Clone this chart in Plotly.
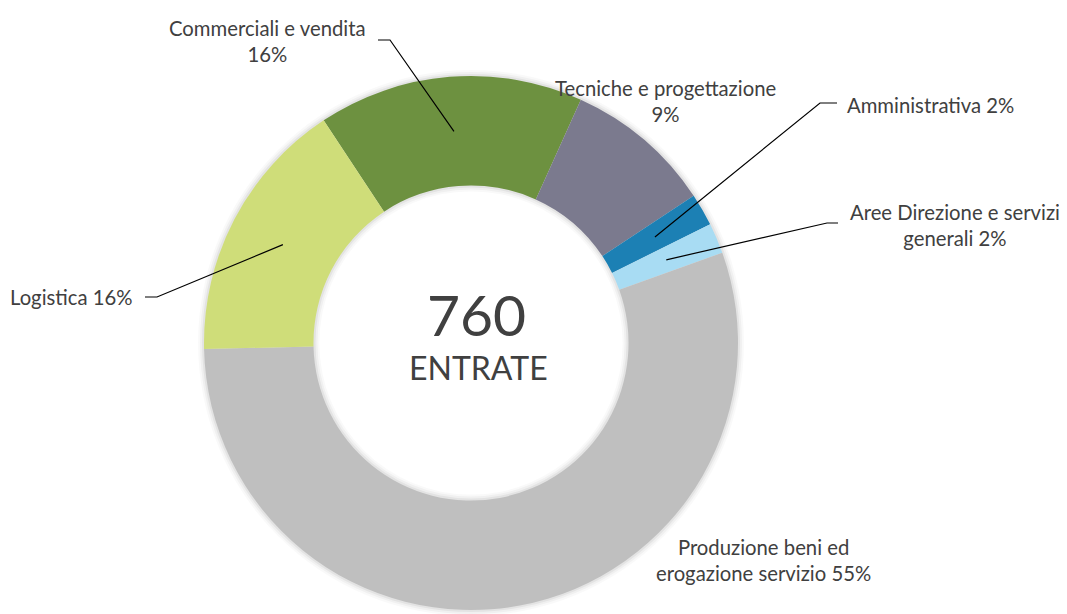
import math
import plotly.graph_objects as go

# ---- data ----
categories = [
    "Commerciali e vendita",
    "Tecniche e progettazione",
    "Amministrativa",
    "Aree Direzione e servizi generali",
    "Produzione beni ed erogazione servizio",
    "Logistica",
]
values = [122, 68, 15, 14, 419, 122]
label_names = [
    "Commerciali e vendita<br>{p}%",
    "Tecniche e progettazione<br>{p}%",
    "Amministrativa {p}%",
    "Aree Direzione e servizi<br>generali {p}%",
    "Produzione beni ed<br>erogazione servizio {p}%",
    "Logistica {p}%",
]
center_value = "760"
center_word = "ENTRATE"

# ---- styling / layout ----
colors = ["#6d9140", "#7b7a8e", "#1c80b4", "#a8dcf3", "#bfbfbf", "#cfdd79"]
OFF = 8                      # default page body margin
W, H = 1067 - OFF, 614       # figure size
CX, CY, R = 471, 343, 267    # target page pixel geometry
HOLE = 0.59
ROTATION = -33.5
FONT = "Lato, Carlito, Calibri, sans-serif"
TXT = "#404040"
LABEL_SIZE = 20.3


def px(x):
    return (x - OFF) / W


def py(y):
    return 1 - (y - OFF) / H


total = sum(values)
pct = [round(v / total * 100) for v in values]

fig = go.Figure()

# soft shadow rings behind the donut
r_in = R * HOLE
for k, a in [(6, 0.025), (4, 0.035), (2, 0.05)]:
    Ro = R + k
    fig.add_trace(go.Pie(
        values=[1], labels=["shadow"], hole=(r_in - k) / Ro, sort=False,
        marker=dict(colors=["rgba(0,0,0,{})".format(a)], line=dict(width=0)),
        textinfo="none", hoverinfo="skip", showlegend=False,
        domain=dict(x=[px(CX - Ro), px(CX + Ro)], y=[py(CY + Ro), py(CY - Ro)]),
    ))

fig.add_trace(go.Pie(
    labels=categories,
    values=values,
    hole=HOLE,
    sort=False,
    direction="clockwise",
    rotation=ROTATION,
    marker=dict(colors=colors, line=dict(width=0)),
    textinfo="none",
    hoverinfo="label+value+percent",
    showlegend=False,
    domain=dict(x=[px(CX - R), px(CX + R)], y=[py(CY + R), py(CY - R)]),
))


# mid-angle pointer for each slice (derived from data)
def pointer(i):
    start = ROTATION + sum(values[:i]) / total * 360
    mid = start + values[i] / total * 360 / 2
    a = math.radians(mid)
    rm = R * (1 + HOLE) / 2
    return CX + rm * math.sin(a), CY - rm * math.cos(a)


# label placement: (text x, text y, anchor, leader start, leader elbow)
placement = {
    0: (267, 41, "center", (378, 40), (390, 40)),
    1: (665, 101, "center", None, None),
    2: (845, 105, "left", (837, 103), (820, 103)),
    3: (955, 225, "center", (838, 223), (827, 223)),
    4: (764, 560, "center", None, None),
    5: (135, 297, "right", (145, 297), (157, 297)),
}

annotations = []
shapes = []
for i, (tx, ty, anc, p0, p1) in placement.items():
    annotations.append(dict(
        x=px(tx), y=py(ty), xref="paper", yref="paper",
        text=label_names[i].format(p=pct[i]), showarrow=False,
        xanchor=anc, yanchor="middle", align="center",
        font=dict(family=FONT, size=LABEL_SIZE, color=TXT),
    ))
    if p0 is not None:
        qx, qy = pointer(i)
        path = "M {} {} L {} {} L {} {}".format(
            px(p0[0]), py(p0[1]), px(p1[0]), py(p1[1]), px(qx), py(qy))
        shapes.append(dict(type="path", path=path, xref="paper", yref="paper",
                           line=dict(color="black", width=1.2)))

annotations.append(dict(
    x=px(476), y=py(314), xref="paper", yref="paper", text=center_value,
    showarrow=False, xanchor="center", yanchor="middle",
    font=dict(family=FONT, size=57, color=TXT),
))
annotations.append(dict(
    x=px(478), y=py(367), xref="paper", yref="paper", text=center_word,
    showarrow=False, xanchor="center", yanchor="middle",
    font=dict(family=FONT, size=32, color=TXT),
))

fig.update_layout(
    width=W, height=H,
    margin=dict(l=0, r=0, t=0, b=0),
    paper_bgcolor="white", plot_bgcolor="white",
    annotations=annotations, shapes=shapes,
)

fig.write_html("out.html")
